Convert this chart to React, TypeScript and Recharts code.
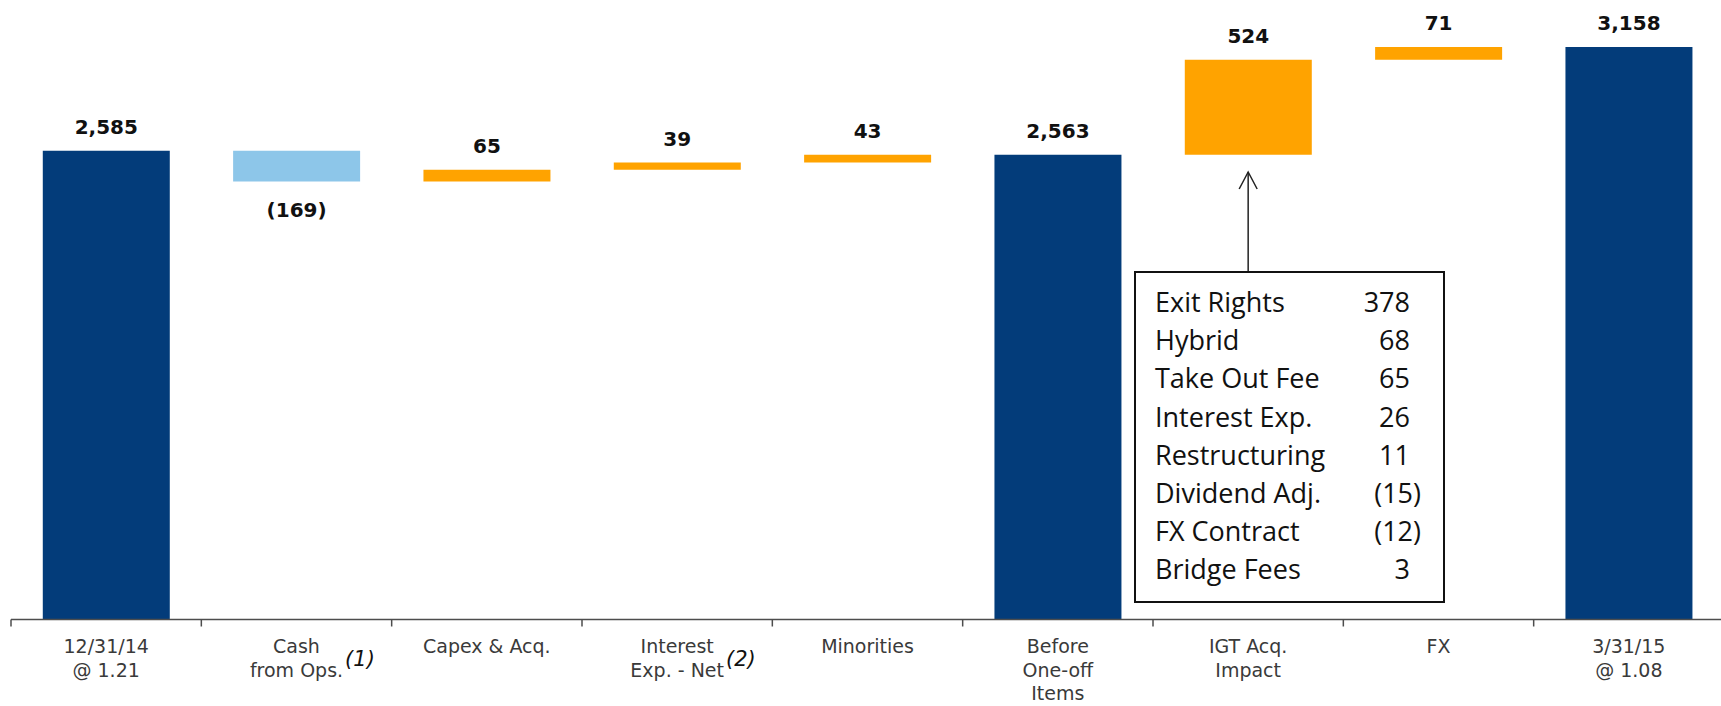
import { useLayoutEffect, useRef, useState } from "react";
import { BarChart, Bar, XAxis, YAxis, Cell, LabelList } from "recharts";

// Net debt bridge, 12/31/14 -> 3/31/15
const categories = [
  ["12/31/14", "@ 1.21"],
  ["Cash", "from Ops."],
  ["Capex & Acq."],
  ["Interest", "Exp. - Net"],
  ["Minorities"],
  ["Before", "One-off", "Items"],
  ["IGT Acq.", "Impact"],
  ["FX"],
  ["3/31/15", "@ 1.08"],
];
const footnotes = ["", "(1)", "", "(2)", "", "", "", "", ""];
const kinds = ["total", "delta", "delta", "delta", "delta", "total", "delta", "delta", "total"];
const amounts = [2585, -169, 65, 39, 43, 2563, 524, 71, 3158];

const breakdownLabels = [
  "Exit Rights",
  "Hybrid",
  "Take Out Fee",
  "Interest Exp.",
  "Restructuring",
  "Dividend Adj.",
  "FX Contract",
  "Bridge Fees",
];
const breakdownValues = [378, 68, 65, 26, 11, -15, -12, 3];

const NAVY = "#033c7a";
const LIGHT_BLUE = "#8dc6e9";
const ORANGE = "#ffa300";

const W = 1724;
const H = 706;
const LEFT = 11;
const BAND = (W - LEFT) / categories.length;

// build floating bars
let running = 0;
const data = categories.map((lines, i) => {
  const amt = amounts[i];
  let base = 0;
  let value = amt;
  if (kinds[i] === "total") {
    running = amt;
  } else if (amt >= 0) {
    base = running;
    running += amt;
  } else {
    running += amt;
    base = running;
    value = -amt;
  }
  const color = kinds[i] === "total" ? NAVY : amt < 0 ? LIGHT_BLUE : ORANGE;
  return { name: lines.join(" "), base, value, color };
});

const fmt = (v: number) => {
  const s = Math.abs(v).toLocaleString("en-US");
  return v < 0 ? `(${s})` : s;
};

const LABEL_FONT = "'DejaVu Sans', Verdana, sans-serif";

const TickLine = ({ x, y, text, note }: { x: number; y: number; text: string; note: string }) => {
  const ref = useRef<SVGTextElement>(null);
  const [w, setW] = useState(0);
  useLayoutEffect(() => {
    if (ref.current) setW(ref.current.getComputedTextLength());
  }, [text]);
  return (
    <g>
      <text ref={ref} x={x} y={y} textAnchor="middle" fontFamily={LABEL_FONT} fontSize={19} fill="#3a3a3a">
        {text}
      </text>
      {note && (
        <text x={x + w / 2 + 2} y={y - 11} fontFamily={LABEL_FONT} fontStyle="italic" fontSize={21} fill="#111">
          {note}
        </text>
      )}
    </g>
  );
};

const CategoryTick = (props: any) => {
  const { x, y, index } = props;
  const lines = categories[index] || [];
  return (
    <g>
      <line x1={x - BAND / 2} y1={y} x2={x - BAND / 2} y2={y + 7} stroke="#4d4d4d" strokeWidth={1.5} />
      {lines.map((t, i) => (
        <TickLine
          key={i}
          x={x}
          y={y + 33.5 + i * 23.7}
          text={t}
          note={i === lines.length - 1 ? footnotes[index] : ""}
        />
      ))}
    </g>
  );
};

const ValueLabel = (props: any) => {
  const { x, y, width, height, index } = props;
  const amt = amounts[index];
  const cx = x + width / 2;
  const ty = amt < 0 ? y + height + 36 : y - 17;
  return (
    <text x={cx} y={ty} textAnchor="middle" fontFamily={LABEL_FONT} fontWeight="bold" fontSize={20} fill="#111">
      {fmt(amt)}
    </text>
  );
};

// callout with the IGT breakdown
const Callout = () => {
  const ax = LEFT + BAND * 6.5;
  const boxL = 1135;
  const boxR = 1444;
  const boxT = 272;
  const boxB = 602;
  const tipY = 172;
  return (
    <svg width={1721} height={H} style={{ position: "absolute", left: 0, top: 0, pointerEvents: "none" }}>
      <line x1={ax} y1={boxT} x2={ax} y2={tipY} stroke="#222" strokeWidth={1.5} />
      <polyline
        points={`${ax - 9},${tipY + 17} ${ax},${tipY} ${ax + 9},${tipY + 17}`}
        fill="none"
        stroke="#222"
        strokeWidth={1.5}
      />
      <rect x={boxL} y={boxT} width={boxR - boxL} height={boxB - boxT} fill="#fff" stroke="#111" strokeWidth={2} />
      {breakdownLabels.map((l, i) => {
        const v = breakdownValues[i];
        const yy = 312 + i * 38.2;
        return (
          <g key={l} fontFamily="'Open Sans', sans-serif" fontSize={27} fill="#111">
            <text x={1155} y={yy}>{l}</text>
            <text x={v < 0 ? 1421 : 1410} y={yy} textAnchor="end">{fmt(v)}</text>
          </g>
        );
      })}
    </svg>
  );
};

export default function App() {
  return (
    <div style={{ position: "absolute", left: 0, top: 0, width: 1721, height: H, overflow: "hidden", background: "#fff" }}>
      <BarChart width={W} height={H} data={data} margin={{ top: 3, right: 0, left: LEFT, bottom: 0 }} barCategoryGap="16.7%">
        <XAxis
          dataKey="name"
          interval={0}
          height={86.5}
          tickLine={false}
          tickSize={0}
          tickMargin={0}
          axisLine={{ stroke: "#4d4d4d", strokeWidth: 1.5 }}
          tick={<CategoryTick />}
        />
        <YAxis hide domain={[0, 3400]} />
        <Bar dataKey="base" stackId="a" fill="transparent" isAnimationActive={false} />
        <Bar dataKey="value" stackId="a" isAnimationActive={false}>
          {data.map((d, i) => (
            <Cell key={i} fill={d.color} />
          ))}
          <LabelList dataKey="value" content={<ValueLabel />} />
        </Bar>
      </BarChart>
      <Callout />
    </div>
  );
}
